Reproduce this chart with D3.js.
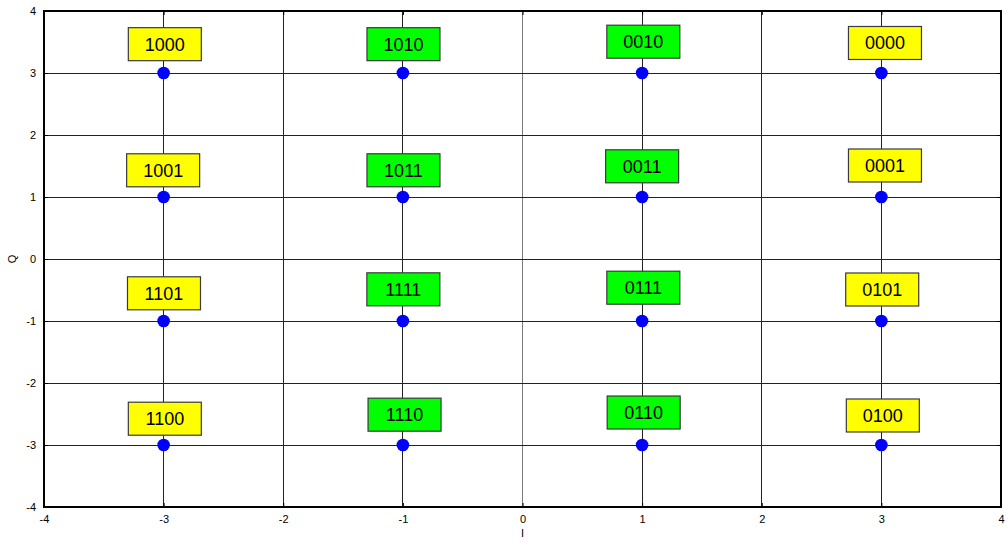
<!DOCTYPE html>
<html>
<head>
<meta charset="utf-8">
<script src="https://cdn.jsdelivr.net/npm/d3@7"></script>
<style>
  html, body { margin: 0; padding: 0; background: #fff; }
  svg { display: block; font-family: "Liberation Sans", Arial, sans-serif; }
</style>
</head>
<body>
<svg id="chart" width="1007" height="542"></svg>
<script>
// 16-QAM constellation points (I, Q) and their Gray-coded bit labels
const symbolI = [-3, -1, 1, 3, -3, -1, 1, 3, -3, -1, 1, 3, -3, -1, 1, 3];
const symbolQ = [3, 3, 3, 3, 1, 1, 1, 1, -1, -1, -1, -1, -3, -3, -3, -3];
const bitLabels = ["1000", "1010", "0010", "0000",
                   "1001", "1011", "0011", "0001",
                   "1101", "1111", "0111", "0101",
                   "1100", "1110", "0110", "0100"];
// where each label box is centred, in axis units
const labelI = [-2.99, -0.995, 1.01, 3.03,
                -3.004, -0.995, 1.0, 3.03,
                -2.997, -0.996, 1.01, 3.007,
                -2.99, -0.986, 1.013, 3.012];
const labelQ = [3.465, 3.465, 3.505, 3.484,
                1.431, 1.431, 1.495, 1.508,
                -0.553, -0.489, -0.463, -0.492,
                -2.576, -2.511, -2.476, -2.524];
// yellow for outer-column symbols, green for inner-column symbols
const labelGroup = ["outer", "inner", "inner", "outer",
                    "outer", "inner", "inner", "outer",
                    "outer", "inner", "inner", "outer",
                    "outer", "inner", "inner", "outer"];
const xTicks = [-4, -3, -2, -1, 0, 1, 2, 3, 4];
const yTicks = [-4, -3, -2, -1, 0, 1, 2, 3, 4];

(function draw() {
  const svg = d3.select("#chart");
  const pl = 44, pr = 1001, pt = 11, pb = 507;

  const x = d3.scaleLinear().domain([-4, 4]).range([pl, pr]);
  const y = d3.scaleLinear().domain([-4, 4]).range([pb, pt]);
  const fillColor = d3.scaleOrdinal().domain(["outer", "inner"]).range(["#ffff00", "#00ff00"]);

  // grid lines
  const grid = svg.append("g");
  grid.selectAll("line.gx").data(xTicks.slice(1, -1)).join("line")
    .attr("x1", d => x(d)).attr("x2", d => x(d))
    .attr("y1", pt).attr("y2", pb)
    .attr("stroke", d => d === 0 ? "#7a7a7a" : "#222")
    .attr("stroke-width", 1).attr("shape-rendering", "crispEdges");
  grid.selectAll("line.gy").data(yTicks.slice(1, -1)).join("line")
    .attr("x1", pl).attr("x2", pr)
    .attr("y1", d => y(d)).attr("y2", d => y(d))
    .attr("stroke", "#222")
    .attr("stroke-width", 1).attr("shape-rendering", "crispEdges");

  // axes with inward ticks on all four sides; plain hyphen for negatives
  const fmt = d => String(d);
  const axB = svg.append("g").attr("transform", `translate(0,${pb})`)
    .call(d3.axisBottom(x).tickValues(xTicks).tickFormat(fmt).tickSizeInner(-4).tickSizeOuter(0).tickPadding(8));
  const axL = svg.append("g").attr("transform", `translate(${pl},0)`)
    .call(d3.axisLeft(y).tickValues(yTicks).tickFormat(fmt).tickSizeInner(-4).tickSizeOuter(0).tickPadding(8));
  const axT = svg.append("g").attr("transform", `translate(0,${pt})`)
    .call(d3.axisTop(x).tickValues(xTicks).tickFormat("").tickSizeInner(-4).tickSizeOuter(0));
  const axR = svg.append("g").attr("transform", `translate(${pr},0)`)
    .call(d3.axisRight(y).tickValues(yTicks).tickFormat("").tickSizeInner(-4).tickSizeOuter(0));
  [axB, axL, axT, axR].forEach(a => {
    a.select(".domain").remove();
    a.selectAll(".tick line").attr("stroke", "#000");
    a.selectAll("text").attr("font-size", 11).attr("fill", "#000")
      .attr("font-family", "'Liberation Sans', Arial, sans-serif");
  });

  // plot frame
  svg.append("rect")
    .attr("x", pl).attr("y", pt)
    .attr("width", pr - pl).attr("height", pb - pt)
    .attr("fill", "none").attr("stroke", "#000").attr("stroke-width", 2);

  // constellation points
  svg.append("g").selectAll("circle").data(symbolI).join("circle")
    .attr("cx", d => x(d))
    .attr("cy", (d, i) => y(symbolQ[i]))
    .attr("r", 6.3)
    .attr("fill", "#0000ff");

  // bit labels in coloured boxes
  const boxW = 73, boxH = 33;
  const labels = svg.append("g").selectAll("g").data(bitLabels).join("g")
    .attr("transform", (d, i) => `translate(${x(labelI[i])},${y(labelQ[i])})`);
  labels.append("rect")
    .attr("x", -boxW / 2).attr("y", -boxH / 2)
    .attr("width", boxW).attr("height", boxH)
    .attr("fill", (d, i) => fillColor(labelGroup[i]))
    .attr("stroke", "#3a3a3a").attr("stroke-width", 1.2);
  labels.append("text")
    .attr("text-anchor", "middle").attr("dy", "0.36em")
    .attr("font-size", 18).attr("fill", "#000")
    .text(d => d);

  // axis titles
  svg.append("text")
    .attr("x", (pl + pr) / 2).attr("y", 537)
    .attr("text-anchor", "middle").attr("font-size", 11)
    .text("I");
  svg.append("text")
    .attr("transform", `translate(16,${(pt + pb) / 2}) rotate(-90)`)
    .attr("text-anchor", "middle").attr("font-size", 11)
    .text("Q");
})();
</script>
</body>
</html>
